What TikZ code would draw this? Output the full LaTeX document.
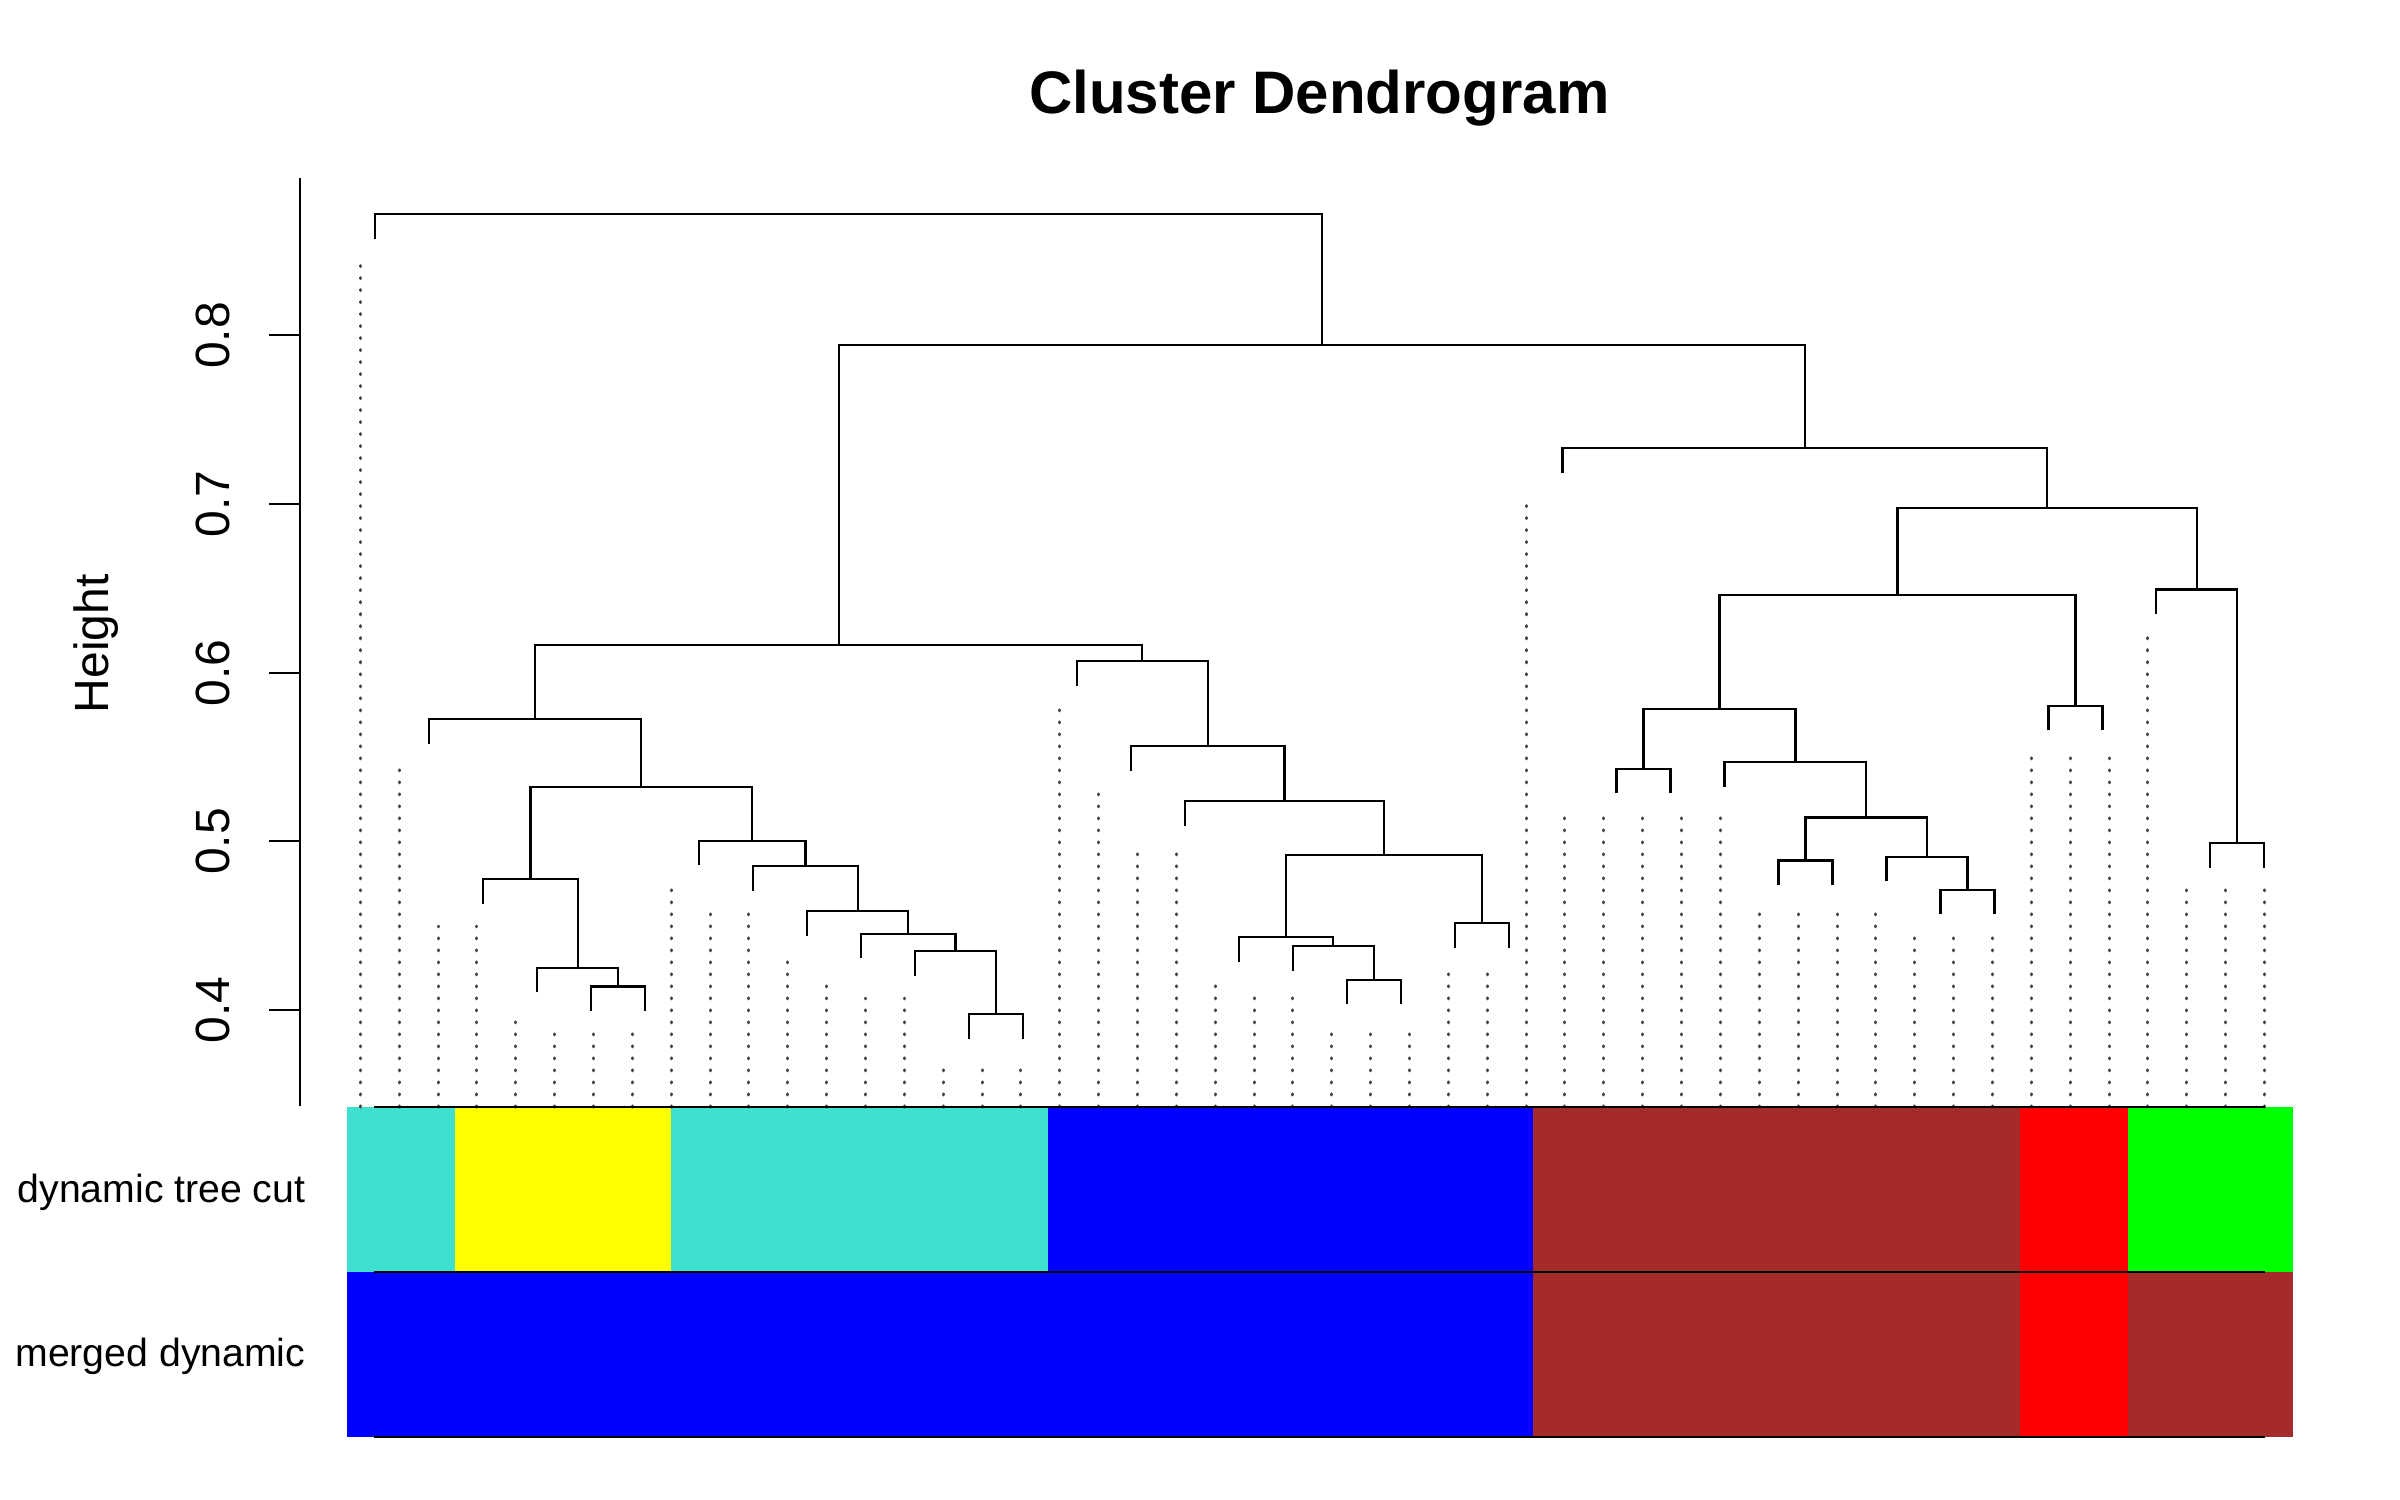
\documentclass[tikz,border=0pt]{standalone}
\usepackage{fontspec}
\setmainfont{Liberation Sans}
\usetikzlibrary{calc}
\definecolor{cturq}{RGB}{64,224,208}
\definecolor{cyel}{RGB}{255,255,0}
\definecolor{cblue}{RGB}{0,0,255}
\definecolor{cbrown}{RGB}{165,42,42}
\definecolor{cred}{RGB}{255,0,0}
\definecolor{cgreen}{RGB}{0,255,0}
\definecolor{guidegray}{RGB}{72,72,72}
\newcommand\mrg[3]{\draw[tree] (#2) |- (#1) -| (#3);}
\begin{document}
\begin{tikzpicture}[x=0.01cm,y=-0.01cm,
  tree/.style={line width=0.64pt,black},
  guide/.style={line width=0.85pt,guidegray,line cap=round,dash pattern=on 0.3pt off 3.114pt},
  barline/.style={line width=0.6pt,black},
  axisline/.style={line width=0.75pt,black},
  tickline/.style={line width=0.55pt,black},
  ticklab/.style={font=\fontsize{13.66pt}{14pt}\selectfont,rotate=90,anchor=base,inner sep=0pt},
  rowlab/.style={font=\fontsize{11.15pt}{12pt}\selectfont,anchor=base east,inner sep=0pt},
  titlelab/.style={font=\fontsize{17.07pt}{18pt}\selectfont\bfseries,anchor=base,inner sep=0pt}]
\path[use as bounding box] (0,0) rectangle (2400,1500);

% colour bars
\fill[cturq]  (347,1107) rectangle (455,1272);
\fill[cyel]   (455,1107) rectangle (671,1272);
\fill[cturq]  (671,1107) rectangle (1048,1272);
\fill[cblue]  (1048,1107) rectangle (1533,1272);
\fill[cbrown] (1533,1107) rectangle (2019.5,1272);
\fill[cred]   (2019.5,1107) rectangle (2128,1272);
\fill[cgreen] (2128,1107) rectangle (2293,1272);
\fill[cblue]  (347,1272) rectangle (1533,1437);
\fill[cbrown] (1533,1272) rectangle (2019.5,1437);
\fill[cred]   (2019.5,1272) rectangle (2128,1437);
\fill[cbrown] (2128,1272) rectangle (2293,1437);

% guide lines
\foreach \g/\t in {0/263,1/768,2/926,3/926,4/1020,5/1032,6/1032,7/1032,8/888,9/912,
  10/912,11/960,12/985,13/998,14/998,15/1069,16/1069,17/1069,18/708,19/792,
  20/852,21/852,22/985,23/997,24/997,25/1033,26/1033,27/1033,28/973,29/973,
  30/504,31/817,32/817,33/817,34/817,35/817,36/912,37/912,38/912,39/912,
  40/936,41/936,42/936,43/756,44/756,45/756,46/636,47/889,48/889,49/889}
  {\draw[guide] ({360.3+38.86*\g},1107) -- ({360.3+38.86*\g},\t);}

% row separator lines
\coordinate (b1l) at (374,1107); \coordinate (b1r) at (2265,1107);
\coordinate (b2l) at (374,1272); \coordinate (b2r) at (2265,1272);
\coordinate (b3l) at (374,1437); \coordinate (b3r) at (2265,1437);
\draw[barline] (b1l) -- (b1r);
\draw[barline] (b2l) -- (b2r);
\draw[barline] (b3l) -- (b3r);

% leaves
\coordinate (L0) at (375.3,238.8);
\coordinate (L1) at (429.3,743.5);
\coordinate (L2) at (483.2,903.5);
\coordinate (L3) at (537.2,992.3);
\coordinate (L4) at (591.2,1010.9);
\coordinate (L5) at (645.2,1010.9);
\coordinate (L6) at (699.1,865.2);
\coordinate (L7) at (753.1,890.8);
\coordinate (L8) at (807.1,935.8);
\coordinate (L9) at (861.0,958.2);
\coordinate (L10) at (915.0,975.5);
\coordinate (L11) at (969.0,1038.8);
\coordinate (L12) at (1022.9,1038.8);
\coordinate (L13) at (1076.9,685.5);
\coordinate (L14) at (1130.9,770.5);
\coordinate (L15) at (1184.9,825.8);
\coordinate (L16) at (1238.8,961.5);
\coordinate (L17) at (1292.8,970.5);
\coordinate (L18) at (1346.8,1004.2);
\coordinate (L19) at (1400.7,1004.2);
\coordinate (L20) at (1454.7,947.5);
\coordinate (L21) at (1508.7,947.5);
\coordinate (L22) at (1562.6,472.8);
\coordinate (L23) at (1616.6,793.2);
\coordinate (L24) at (1670.6,793.2);
\coordinate (L25) at (1724.6,786.8);
\coordinate (L26) at (1778.5,885);
\coordinate (L27) at (1832.5,885);
\coordinate (L28) at (1886.5,881.3);
\coordinate (L29) at (1940.4,914.4);
\coordinate (L30) at (1994.4,914.4);
\coordinate (L31) at (2048.4,730.3);
\coordinate (L32) at (2102.4,730.3);
\coordinate (L33) at (2156.3,614.1);
\coordinate (L34) at (2210.3,867.5);
\coordinate (L35) at (2264.3,867.5);

% merge points
\coordinate (mF) at (618.2,986.4);
\coordinate (mE) at (577.7,967.8);
\coordinate (mD) at (530.45,879);
\coordinate (mNn) at (995.95,1014.3);
\coordinate (mM) at (955.5,951);
\coordinate (mK) at (908.25,933.7);
\coordinate (mJ) at (857.7,911.3);
\coordinate (mI) at (805.4,866.3);
\coordinate (mH) at (752.25,840.7);
\coordinate (mC) at (641.35,787.3);
\coordinate (mB) at (535.3,719);
\coordinate (mX) at (1373.75,979.7);
\coordinate (mV) at (1333.3,946);
\coordinate (mU) at (1286.05,937);
\coordinate (mW) at (1481.7,923);
\coordinate (mT) at (1383.9,855.3);
\coordinate (mS) at (1284.4,801.3);
\coordinate (mQ) at (1207.65,746);
\coordinate (mP) at (1142.3,661);
\coordinate (mA) at (838.8,645);
\coordinate (g5) at (1643.6,768.7);
\coordinate (g7a) at (1805.5,860.5);
\coordinate (g7c) at (1967.4,889.9);
\coordinate (g7b) at (1926.95,856.8);
\coordinate (g7) at (1866.2,817.4);
\coordinate (g6) at (1795.4,762.3);
\coordinate (g4) at (1719.5,709);
\coordinate (g8) at (2075.4,705.8);
\coordinate (g3) at (1897.45,595.1);
\coordinate (g10) at (2237.3,843);
\coordinate (g9) at (2196.8,589.6);
\coordinate (g2) at (2047.1,508.3);
\coordinate (g1) at (1804.85,448.3);
\coordinate (mN1) at (1321.8,345);
\coordinate (mR) at (848.55,214.3);

% tree
\mrg{mF}{L4}{L5}
\mrg{mE}{L3}{mF}
\mrg{mD}{L2}{mE}
\mrg{mNn}{L11}{L12}
\mrg{mM}{L10}{mNn}
\mrg{mK}{L9}{mM}
\mrg{mJ}{L8}{mK}
\mrg{mI}{L7}{mJ}
\mrg{mH}{L6}{mI}
\mrg{mC}{mD}{mH}
\mrg{mB}{L1}{mC}
\mrg{mX}{L18}{L19}
\mrg{mV}{L17}{mX}
\mrg{mU}{L16}{mV}
\mrg{mW}{L20}{L21}
\mrg{mT}{mU}{mW}
\mrg{mS}{L15}{mT}
\mrg{mQ}{L14}{mS}
\mrg{mP}{L13}{mQ}
\mrg{mA}{mB}{mP}
\mrg{g5}{L23}{L24}
\mrg{g7a}{L26}{L27}
\mrg{g7c}{L29}{L30}
\mrg{g7b}{L28}{g7c}
\mrg{g7}{g7a}{g7b}
\mrg{g6}{L25}{g7}
\mrg{g4}{g5}{g6}
\mrg{g8}{L31}{L32}
\mrg{g3}{g4}{g8}
\mrg{g10}{L34}{L35}
\mrg{g9}{L33}{g10}
\mrg{g2}{g3}{g9}
\mrg{g1}{L22}{g2}
\mrg{mN1}{mA}{g1}
\mrg{mR}{L0}{mN1}

% axis
\coordinate (axtop) at (300,178); \coordinate (axbot) at (300,1106);
\draw[axisline] (axtop) -- (axbot);
\foreach \v/\y in {0.4/1010,0.5/841.35,0.6/672.7,0.7/504.05,0.8/335.4}{
  \draw[tickline] (269,\y) -- (300,\y);
  \node[ticklab] (t\v) at (229.3,\y) {\v};
}
\node[ticklab] (ylab) at (108.3,643.8) {Height};

% labels
\node[titlelab] (title) at (1319.3,114) {Cluster Dendrogram};
\node[rowlab] (row1) at (306,1202.7) {dynamic tree cut};
\node[rowlab] (row2) at (306,1366) {merged dynamic};
\end{tikzpicture}
\end{document}
